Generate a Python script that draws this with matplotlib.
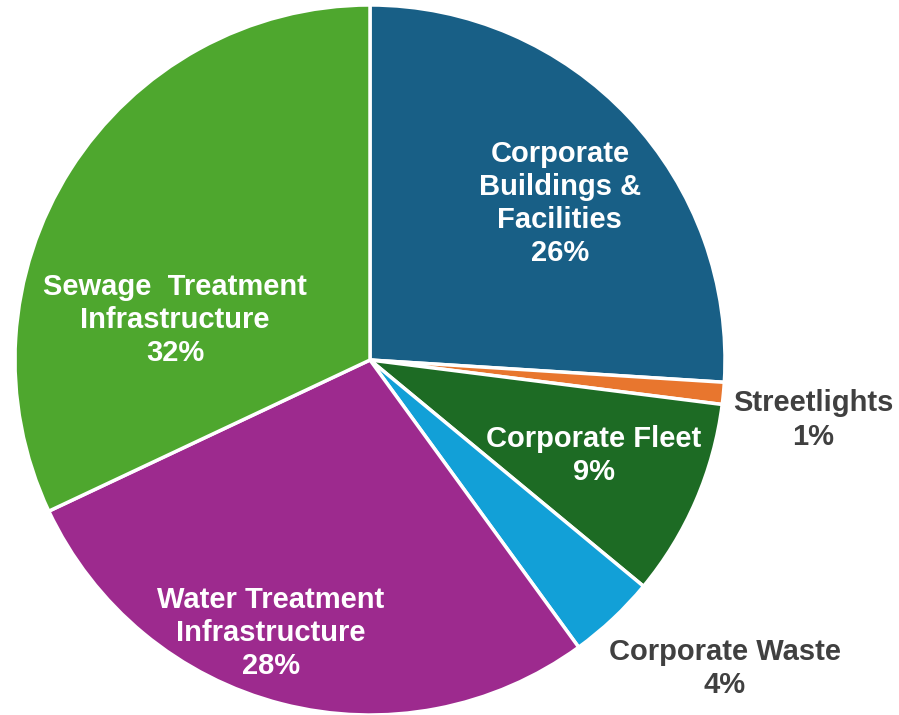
import matplotlib
matplotlib.use("Agg")
import matplotlib.pyplot as plt

# emissions share by sector
sectors = ["Corporate\nBuildings &\nFacilities", "Streetlights", "Corporate Fleet",
           "Corporate Waste", "Water Treatment\nInfrastructure", "Sewage  Treatment\nInfrastructure"]
shares = [26, 1, 9, 4, 28, 32]
colors = ["#185f86", "#e8762e", "#1d6b24", "#12a0d7", "#9d2a8e", "#4ea72e"]

# label placement (pie radius = 1) and colour
label_pos = [(0.535, 0.442), (1.248, -0.169), (0.631, -0.268),
             (1.0, -0.868), (-0.279, -0.769), (-0.549, 0.113)]
label_col = ["white", "#404040", "white", "#404040", "white", "white"]

plt.rcParams['font.family'] = ['Liberation Sans', 'DejaVu Sans']

fig = plt.figure(figsize=(8.99, 7.15), dpi=100)
ax = fig.add_axes([15 / 899, 0 / 715, 710 / 899, 710 / 715])
ax.pie(shares, colors=colors, startangle=90, counterclock=False, radius=1,
       wedgeprops=dict(edgecolor="white", linewidth=2.5))
ax.set_xlim(-1, 1)
ax.set_ylim(-1, 1)
ax.set_aspect("equal")
ax.axis("off")

for name, val, (x, y), c in zip(sectors, shares, label_pos, label_col):
    ax.text(x, y, "%s\n%d%%" % (name, val), ha="center", va="center",
            fontsize=21, fontweight="bold", color=c, linespacing=1.23,
            clip_on=False)

fig.savefig("out.png", dpi=100)
